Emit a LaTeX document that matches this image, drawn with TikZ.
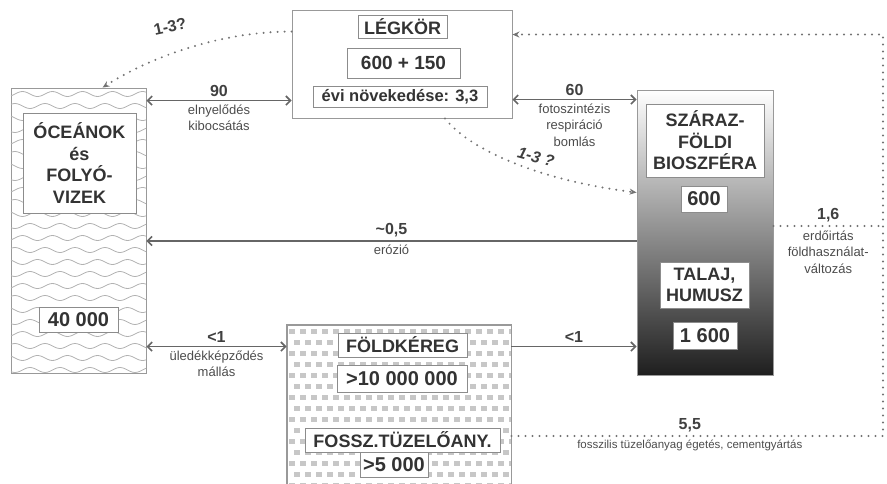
\documentclass[tikz,border=0pt]{standalone}
\usepackage{fontspec}
\setmainfont{Liberation Sans}
\usetikzlibrary{calc, arrows.meta}

\begin{document}
\begin{tikzpicture}[x=1pt, y=-1pt, >={Straight Barb[length=4.5pt,width=9pt]},
    box/.style={draw=black!40, line width=0.9pt, inner sep=0pt},
    lbl/.style={draw=black!45, line width=0.8pt, fill=white, inner sep=1pt, text=black!80,
        font=\fontsize{18}{21.5}\selectfont\bfseries, align=center},
    flow/.style={draw=black!60, line width=1.6pt},
    dotflow/.style={draw=black!55, line width=2.2pt, line cap=round, dash pattern=on 0pt off 7pt},
    val/.style={text=black!75, font=\fontsize{16}{18}\selectfont\bfseries},
    note/.style={text=black!70, font=\fontsize{13}{16.5}\selectfont, align=center},
    wave/.style={draw=black!30, line width=0.8pt},
    brick/.style={fill=black!22}]

    % --- Keret ---
    \useasboundingbox (0,0) rectangle (887,484);

    % --- Tartályok (külső dobozok) ---
    \node[box, minimum width=220pt, minimum height=108pt] (atm) at (402,64) {};
    \node[box, minimum width=135pt, minimum height=285pt] (ocean) at (78.5,230.5) {};
    \node[box, top color=white, middle color=black!38, bottom color=black!88,
        minimum width=136pt, minimum height=285pt] (bio) at (705,232.5) {};
    \node[box, minimum width=224pt, minimum height=165pt] (crust) at (399,407.5) {};

    % Hullámok az óceánban
    \begin{scope}
        \clip (ocean.south west) rectangle (ocean.north east);
        \foreach \r in {0,...,23} {
            \draw[wave] plot[domain=11:146, samples=60, smooth]
                (\x, {94 + 12*\r + 2.5*sin(12*\x + 90*\r)});
        }
    \end{scope}

    % Téglaminta a földkéregben
    \begin{scope}
        \clip (crust.south west) rectangle (crust.north east);
        \foreach \r in {0,...,14} {
            \foreach \c in {0,...,20} {
                \fill[brick] ({289 + 11*\c + 5*mod(\r,2)}, {329 + 11*\r}) rectangle +(6,5);
            }
        }
    \end{scope}
    \draw[draw=black!40, line width=0.9pt] (crust.south west) rectangle (crust.north east);

    % --- Feliratok a dobozokban ---
    \node[lbl, minimum width=89pt, minimum height=23pt] (atmname) at (402.5,26.5) {LÉGKÖR};
    \node[lbl, minimum width=113pt, minimum height=30pt, font=\fontsize{19}{21}\selectfont\bfseries]
        (atmval) at (403.5,63) {600 + 150};
    \node[lbl, minimum width=174pt, minimum height=21pt, font=\fontsize{16.5}{18}\selectfont\bfseries]
        (atmrate) at (400,96.5) {évi növekedése: 3,3};

    \node[lbl, minimum width=113pt, minimum height=100pt] (oceanname) at (79.5,163)
        {ÓCEÁNOK\\és\\FOLYÓ-\\VIZEK};
    \node[lbl, minimum width=79pt, minimum height=25pt, font=\fontsize{20}{22}\selectfont\bfseries]
        (oceanval) at (78.5,319.5) {40 000};

    \node[lbl, minimum width=118pt, minimum height=73pt] (bioname) at (705,140.5)
        {SZÁRAZ-\\FÖLDI\\BIOSZFÉRA};
    \node[lbl, minimum width=46pt, minimum height=26pt, font=\fontsize{20}{22}\selectfont\bfseries]
        (bioval) at (704,199) {600};
    \node[lbl, minimum width=89pt, minimum height=46pt] (soilname) at (704.5,285) {TALAJ,\\HUMUSZ};
    \node[lbl, minimum width=64pt, minimum height=27pt, font=\fontsize{20}{22}\selectfont\bfseries]
        (soilval) at (705,335.5) {1 600};

    \node[lbl, minimum width=129pt, minimum height=24pt] (crustname) at (402.5,345) {FÖLDKÉREG};
    \node[lbl, minimum width=130pt, minimum height=27pt, font=\fontsize{20}{22}\selectfont\bfseries]
        (crustval) at (402,378.5) {>10 000 000};
    \node[lbl, minimum width=195pt, minimum height=24pt] (fossname) at (402.5,440) {FOSSZ.TÜZELŐANY.};
    \node[lbl, minimum width=68pt, minimum height=25pt, font=\fontsize{20}{22}\selectfont\bfseries]
        (fossval) at (394,464.5) {>5 000};

    % --- Szintek a nyilakhoz ---
    \coordinate (y90) at ([yshift=-13pt]ocean.north east);
    \coordinate (y60) at ([yshift=-10pt]bio.north west);
    \coordinate (yero) at ([yshift=-8.5pt]bio.west);
    \coordinate (ysed) at ([yshift=-22pt]crust.north west);
    \coordinate (yluc) at ([yshift=6.5pt]bio.west);
    \coordinate (yfos) at ($(crust.east |- fossname.east)+(0,-4)$);
    \coordinate (yatm) at ([yshift=-25pt]atm.north east);
    \coordinate (y13) at ([yshift=-22pt]atm.north west);
    \coordinate (oin) at ([xshift=92pt]ocean.north west);
    \coordinate (a13) at ([xshift=43pt]atm.south);
    \coordinate (bin) at ([yshift=40pt]bio.west);
    \coordinate (rail) at (883,0);

    % --- Folyamatos áramok ---
    \draw[flow, <->] (y90) -- (y90 -| atm.west)
        node[midway, above, val] {90}
        node[midway, below, note] {elnyelődés\\kibocsátás};
    \draw[flow, <->] (y60 -| atm.east) -- (y60)
        node[midway, above, val] {60}
        node[midway, below, note] {fotoszintézis\\respiráció\\bomlás};
    \draw[flow, ->] (yero) -- (yero -| ocean.east)
        node[midway, above, val] {\textasciitilde0,5}
        node[midway, below, note] {erózió};
    \draw[flow, <->] (ysed -| ocean.east) -- (ysed)
        node[midway, above, val] {<1}
        node[midway, below, note] {üledékképződés\\mállás};
    \draw[flow, ->] (ysed -| crust.east) -- (ysed -| bio.west)
        node[midway, above, val] {<1};

    % --- Pontozott (emberi) áramok ---
    \draw[dotflow, -{Stealth[length=7pt,width=6pt]}] (yfos) -- (yfos -| rail)
        node[pos=0.48, above, val] {5,5}
        node[pos=0.48, below, note, font=\fontsize{11.5}{14}\selectfont] {fosszilis tüzelőanyag égetés, cementgyártás}
        -- (yatm -| rail) -- (yatm);
    \draw[dotflow] (yluc -| bio.east) -- (yluc -| rail)
        node[midway, above, val] {1,6}
        node[midway, below, note] {erdőirtás\\földhasználat-\\változás};

    % Bizonytalan áramok
    \draw[dotflow, -{Stealth[length=7pt,width=6pt]}] (y13) .. controls +(-72,0) and +(47,-30) .. (oin);
    \node[val, rotate=12] (q1) at (170,27) {1-3?};
    \draw[dotflow, -{Stealth[length=7pt,width=6pt]}] (a13) .. controls +(25,32) and +(-96,-12) .. (bin);
    \node[val, font=\fontsize{16}{18}\selectfont\bfseries\itshape, rotate=-15] (q2) at (536,157) {1-3 ?};

\end{tikzpicture}
\end{document}
